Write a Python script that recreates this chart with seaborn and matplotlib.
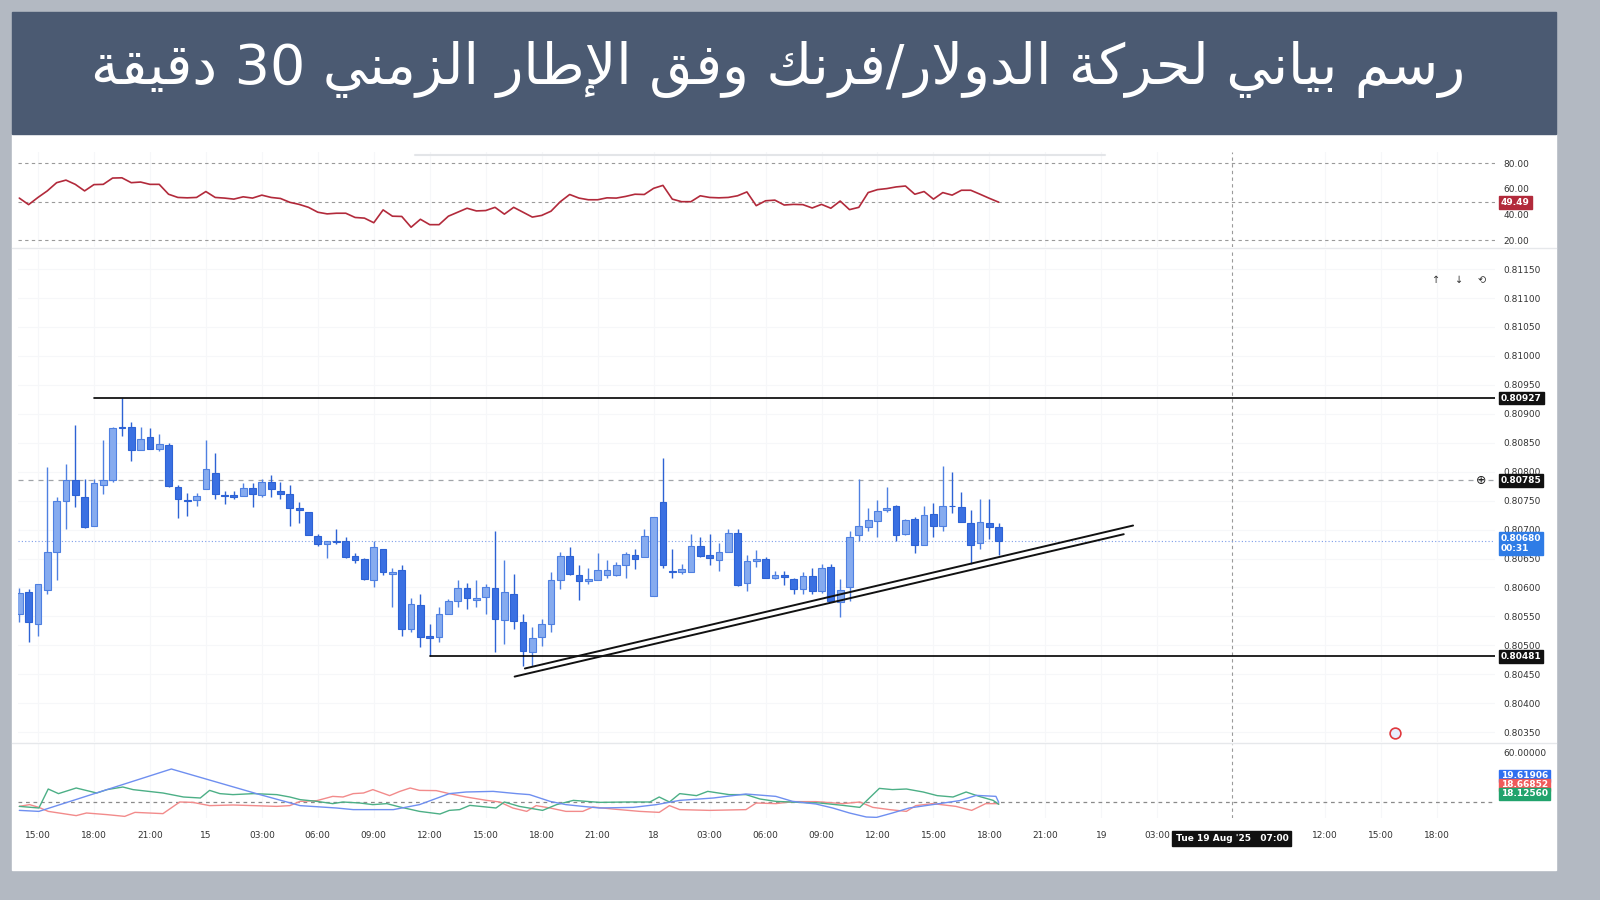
import re

import matplotlib
matplotlib.use("Agg")
import matplotlib.pyplot as plt
import seaborn as sns
import pandas as pd
from matplotlib.patches import Rectangle

TITLE = "رسم بياني لحركة الدولار/فرنك وفق الإطار الزمني 30 دقيقة"

# 30-minute candles, bar index 0 = 14 Aug 14:00
OPENS = [0.80555, 0.80592, 0.80537, 0.80595, 0.80661, 0.80749, 0.80785, 0.80756, 0.80706, 0.80777,
         0.80785, 0.80878, 0.80878, 0.80837, 0.80860, 0.80840, 0.80846, 0.80774, 0.80751, 0.80751,
         0.80770, 0.80797, 0.80760, 0.80760, 0.80758, 0.80772, 0.80760, 0.80783, 0.80767, 0.80761,
         0.80738, 0.80731, 0.80689, 0.80675, 0.80680, 0.80681, 0.80654, 0.80650, 0.80613, 0.80666,
         0.80624, 0.80630, 0.80529, 0.80570, 0.80516, 0.80514, 0.80554, 0.80576, 0.80599, 0.80578,
         0.80584, 0.80599, 0.80543, 0.80589, 0.80540, 0.80488, 0.80514, 0.80536, 0.80613, 0.80654,
         0.80622, 0.80611, 0.80613, 0.80621, 0.80621, 0.80639, 0.80656, 0.80653, 0.80585, 0.80747,
         0.80629, 0.80626, 0.80627, 0.80671, 0.80656, 0.80648, 0.80662, 0.80694, 0.80607, 0.80645,
         0.80650, 0.80617, 0.80622, 0.80615, 0.80598, 0.80619, 0.80594, 0.80636, 0.80575, 0.80600,
         0.80691, 0.80705, 0.80715, 0.80733, 0.80740, 0.80692, 0.80718, 0.80673, 0.80727, 0.80706,
         0.80741, 0.80739, 0.80711, 0.80676, 0.80711, 0.80704]
HIGHS = [0.80599, 0.80597, 0.80606, 0.80808, 0.80757, 0.80813, 0.80880, 0.80788, 0.80788, 0.80855,
         0.80878, 0.80927, 0.80885, 0.80878, 0.80875, 0.80865, 0.80850, 0.80777, 0.80763, 0.80764,
         0.80855, 0.80833, 0.80767, 0.80767, 0.80781, 0.80781, 0.80788, 0.80795, 0.80782, 0.80777,
         0.80747, 0.80731, 0.80692, 0.80681, 0.80701, 0.80687, 0.80660, 0.80651, 0.80681, 0.80666,
         0.80633, 0.80639, 0.80582, 0.80588, 0.80536, 0.80566, 0.80580, 0.80613, 0.80608, 0.80613,
         0.80606, 0.80698, 0.80647, 0.80623, 0.80555, 0.80531, 0.80546, 0.80627, 0.80662, 0.80670,
         0.80639, 0.80634, 0.80660, 0.80647, 0.80644, 0.80662, 0.80667, 0.80701, 0.80721, 0.80823,
         0.80666, 0.80640, 0.80692, 0.80688, 0.80692, 0.80676, 0.80701, 0.80701, 0.80656, 0.80664,
         0.80653, 0.80628, 0.80628, 0.80617, 0.80627, 0.80634, 0.80640, 0.80640, 0.80614, 0.80698,
         0.80788, 0.80737, 0.80751, 0.80773, 0.80743, 0.80718, 0.80722, 0.80741, 0.80746, 0.80810,
         0.80799, 0.80765, 0.80733, 0.80752, 0.80752, 0.80711]
LOWS = [0.80540, 0.80506, 0.80516, 0.80588, 0.80613, 0.80701, 0.80739, 0.80703, 0.80706, 0.80761,
        0.80782, 0.80861, 0.80818, 0.80837, 0.80839, 0.80836, 0.80773, 0.80720, 0.80723, 0.80740,
        0.80770, 0.80752, 0.80744, 0.80752, 0.80758, 0.80739, 0.80757, 0.80757, 0.80752, 0.80706,
        0.80711, 0.80691, 0.80672, 0.80651, 0.80675, 0.80651, 0.80643, 0.80613, 0.80600, 0.80622,
        0.80567, 0.80516, 0.80523, 0.80497, 0.80482, 0.80505, 0.80554, 0.80566, 0.80563, 0.80567,
        0.80554, 0.80488, 0.80503, 0.80529, 0.80464, 0.80464, 0.80498, 0.80523, 0.80598, 0.80622,
        0.80578, 0.80606, 0.80613, 0.80617, 0.80619, 0.80616, 0.80632, 0.80653, 0.80585, 0.80633,
        0.80616, 0.80623, 0.80627, 0.80653, 0.80638, 0.80629, 0.80662, 0.80603, 0.80594, 0.80636,
        0.80617, 0.80614, 0.80605, 0.80589, 0.80589, 0.80589, 0.80590, 0.80577, 0.80549, 0.80577,
        0.80680, 0.80698, 0.80688, 0.80730, 0.80680, 0.80690, 0.80659, 0.80673, 0.80687, 0.80698,
        0.80729, 0.80713, 0.80640, 0.80667, 0.80684, 0.80656]
CLOSES = [0.80591, 0.80541, 0.80606, 0.80661, 0.80749, 0.80786, 0.80760, 0.80705, 0.80781, 0.80786,
          0.80875, 0.80875, 0.80837, 0.80857, 0.80839, 0.80848, 0.80775, 0.80753, 0.80750, 0.80758,
          0.80805, 0.80761, 0.80758, 0.80756, 0.80772, 0.80761, 0.80782, 0.80770, 0.80761, 0.80738,
          0.80734, 0.80691, 0.80675, 0.80680, 0.80679, 0.80652, 0.80647, 0.80615, 0.80670, 0.80626,
          0.80627, 0.80529, 0.80571, 0.80514, 0.80512, 0.80555, 0.80576, 0.80599, 0.80581, 0.80582,
          0.80600, 0.80546, 0.80592, 0.80542, 0.80490, 0.80513, 0.80536, 0.80613, 0.80654, 0.80623,
          0.80612, 0.80614, 0.80630, 0.80630, 0.80639, 0.80657, 0.80650, 0.80689, 0.80721, 0.80639,
          0.80627, 0.80632, 0.80671, 0.80655, 0.80651, 0.80662, 0.80694, 0.80605, 0.80645, 0.80650,
          0.80617, 0.80622, 0.80618, 0.80598, 0.80619, 0.80594, 0.80634, 0.80577, 0.80595, 0.80688,
          0.80706, 0.80716, 0.80732, 0.80737, 0.80691, 0.80716, 0.80673, 0.80726, 0.80706, 0.80740,
          0.80740, 0.80713, 0.80673, 0.80713, 0.80704, 0.80680]

RSI = [52.7, 47.6, 53.2, 58.3, 64.7, 66.7, 63.4, 58.3, 63.2, 63.4,
       68.3, 68.5, 64.7, 65.2, 63.4, 63.4, 55.7, 53.2, 52.9, 53.2,
       57.8, 53.2, 52.7, 51.9, 53.7, 52.7, 55.0, 53.2, 52.4, 49.4,
       47.8, 45.5, 41.7, 40.4, 40.9, 40.9, 37.6, 37.1, 33.5, 43.5,
       38.6, 38.4, 30.0, 36.2, 32.0, 32.0, 38.6, 41.7, 44.8, 42.7,
       43.0, 45.5, 40.2, 45.5, 41.7, 37.9, 39.2, 42.5, 49.9, 55.5,
       52.7, 51.4, 51.4, 52.9, 52.7, 54.0, 55.7, 55.5, 60.3, 62.6,
       51.9, 49.9, 49.9, 54.5, 53.2, 52.9, 53.2, 54.5, 57.5, 46.8,
       50.6, 51.1, 47.3, 47.8, 47.6, 45.0, 47.8, 44.8, 50.4, 43.7,
       45.5, 57.0, 59.3, 60.1, 61.4, 62.1, 55.7, 57.8, 51.9, 57.0,
       55.0, 58.8, 58.8, 55.7, 52.5, 49.49]

# DMI readings (bar position, value)
ADX_X = [0, 2.1, 16.3, 25.8, 30.1, 34, 35.8, 40.1, 42.9, 46.1, 47.9, 50.8, 53.3, 54.7, 56.9, 58.6,
         60.4, 62.2, 65.8, 68.3, 70.8, 74.4, 77.9, 81.1, 82.9, 85.4, 87.2, 89, 90.8, 91.9, 93.6,
         95.4, 97.9, 100.8, 102.6, 104.7, 105]
ADX_V = [13.3, 12.5, 46.4, 25.9, 17.1, 15.2, 13.9, 13.9, 17.9, 26.7, 28.0, 28.5, 26.7, 25.9, 20.5, 17.9,
         16.5, 15.2, 15.7, 17.9, 21.3, 23.2, 26.4, 24.5, 20.5, 18.4, 15.2, 11.2, 8.0, 7.7, 11.2,
         15.2, 17.9, 21.1, 25.3, 24.5, 19.62]
PDI_X = [0, 2.1, 3.1, 4.2, 6.1, 8.3, 9.4, 11.1, 12.2, 15.4, 17.6, 19.4, 20.4, 21.5, 22.9, 25.1, 27.6,
         29, 30.1, 31.9, 33.6, 34.7, 36.5, 37.9, 39.4, 40.8, 42.9, 45.1, 46.1, 47.2, 48.3, 49.4,
         51.1, 52, 53.6, 56.1, 57.6, 59.4, 62.2, 65.1, 67.6, 68.6, 69.7, 70.8, 72.6, 73.8, 76.1,
         77.9, 79.4, 81.1, 83.6, 85.8, 88.3, 90.1, 92.2, 93.6, 95.1, 96.9, 98.4, 100.1, 101.5,
         102.9, 104.4, 105]
PDI_V = [16.5, 15.2, 30.4, 26.7, 31.2, 27.2, 29.9, 32.0, 29.9, 27.2, 24.0, 23.2, 29.3, 26.7, 25.9, 26.7, 25.9,
         24.0, 21.9, 20.5, 18.7, 20.0, 19.2, 17.9, 18.7, 16.0, 12.5, 10.4, 13.3, 13.9, 17.3, 16.5,
         15.2, 20.0, 16.5, 13.3, 17.9, 21.3, 19.7, 20.0, 20.0, 24.0, 20.0, 26.7, 25.1, 28.5, 25.9,
         25.9, 22.4, 20.5, 19.7, 19.2, 17.3, 15.7, 30.9, 29.9, 30.4, 28.0, 25.1, 24.0, 28.0,
         24.5, 21.3, 18.13]
MDI_X = [0, 1.1, 2.1, 3.1, 4.7, 6.1, 7.2, 9.4, 11.3, 12.4, 15.4, 17.2, 18.6, 20.4, 22.9, 25.1, 27.6,
         29, 30.1, 31.9, 33.6, 34.7, 35.8, 36.9, 37.9, 39.7, 40.8, 41.9, 42.9, 44.7, 46.1, 47.9,
         50.1, 51.5, 52.9, 54.4, 55.4, 56.9, 58.6, 60.4, 61.5, 63.6, 66.5, 68.6, 69.7, 70.8, 74,
         77.9, 79, 81.1, 82.9, 85.4, 88.3, 90.1, 91.5, 93.3, 95.1, 96.1, 97.9, 100.4, 102.1,
         103.6, 105]
MDI_V = [16.5, 17.9, 15.7, 12.5, 10.7, 9.1, 11.2, 9.9, 8.5, 11.7, 10.7, 20.0, 19.7, 17.1, 17.6, 17.1, 16.5,
         17.1, 20.5, 21.1, 24.5, 24.0, 26.7, 27.2, 29.9, 25.1, 28.5, 31.2, 29.3, 29.1, 26.7, 24.0,
         21.3, 20.0, 15.2, 12.5, 17.1, 15.2, 12.5, 12.5, 16.0, 14.4, 12.5, 11.7, 17.1, 13.9, 13.3,
         13.9, 19.2, 18.7, 20.3, 20.3, 18.7, 20.0, 15.7, 13.9, 12.5, 17.1, 18.7, 16.5, 13.3,
         18.7, 18.67]

TICK_POS = [2, 8, 14, 20, 26, 32, 38, 44, 50, 56, 62, 68, 74, 80, 86, 92, 98, 104, 110, 116, 122,
            140, 146, 152]
TICK_LABELS = ["15:00", "18:00", "21:00", "15", "03:00", "06:00", "09:00", "12:00", "15:00",
               "18:00", "21:00", "18", "03:00", "06:00", "09:00", "12:00", "15:00", "18:00",
               "21:00", "19", "03:00", "12:00", "15:00", "18:00"]
CROSS_X = 130
RESIST = 0.80927
SUPPORT = 0.80481
LEVEL_MID = 0.80785
LAST_PRICE = 0.80680
TREND_UP = ([54.2, 119.4], [0.80460, 0.80707])
TREND_LO = ([53.1, 118.4], [0.80446, 0.80692])
PRICE_TICKS = [0.8035 + 0.0005 * k for k in range(17)]

# ---- minimal Arabic shaping (matplotlib has no text shaping) ----
FORMS = {
    "ا": ("\uFE8D", "\uFE8E", None, None), "إ": ("\uFE87", "\uFE88", None, None),
    "ب": ("\uFE8F", "\uFE90", "\uFE91", "\uFE92"), "ة": ("\uFE93", "\uFE94", None, None),
    "ت": ("\uFE95", "\uFE96", "\uFE97", "\uFE98"), "ح": ("\uFEA1", "\uFEA2", "\uFEA3", "\uFEA4"),
    "د": ("\uFEA9", "\uFEAA", None, None), "ر": ("\uFEAD", "\uFEAE", None, None),
    "ز": ("\uFEAF", "\uFEB0", None, None), "س": ("\uFEB1", "\uFEB2", "\uFEB3", "\uFEB4"),
    "ط": ("\uFEC1", "\uFEC2", "\uFEC3", "\uFEC4"), "ف": ("\uFED1", "\uFED2", "\uFED3", "\uFED4"),
    "ق": ("\uFED5", "\uFED6", "\uFED7", "\uFED8"), "ك": ("\uFED9", "\uFEDA", "\uFEDB", "\uFEDC"),
    "ل": ("\uFEDD", "\uFEDE", "\uFEDF", "\uFEE0"), "م": ("\uFEE1", "\uFEE2", "\uFEE3", "\uFEE4"),
    "ن": ("\uFEE5", "\uFEE6", "\uFEE7", "\uFEE8"), "و": ("\uFEED", "\uFEEE", None, None),
    "ي": ("\uFEF1", "\uFEF2", "\uFEF3", "\uFEF4"),
}
LAM_ALEF = {"ا": ("\uFEFB", "\uFEFC"), "إ": ("\uFEF9", "\uFEFA")}


def shape_arabic(text):
    out = []
    i, n = 0, len(text)
    while i < n:
        ch = text[i]
        if ch not in FORMS:
            out.append(ch)
            i += 1
            continue
        prev = text[i - 1] if i > 0 else ""
        prev_j = prev in FORMS and FORMS[prev][2] is not None
        if ch == "ل" and i + 1 < n and text[i + 1] in LAM_ALEF:
            out.append(LAM_ALEF[text[i + 1]][1 if prev_j else 0])
            i += 2
            continue
        nxt = text[i + 1] if i + 1 < n else ""
        next_j = FORMS[ch][2] is not None and nxt in FORMS
        iso, fin, ini, med = FORMS[ch]
        out.append(med if prev_j and next_j else fin if prev_j else ini if next_j else iso)
        i += 1
    s = "".join(out)[::-1]
    return re.sub(r"[0-9]+", lambda m: m.group(0)[::-1], s)


sns.set_theme(style="white")
plt.rcParams["font.family"] = "DejaVu Sans"

W, H = 1600, 900
fig = plt.figure(figsize=(16, 9), dpi=100, facecolor="#b3b9c2")


def fx(px):
    return px / W


def fy(py):
    return 1 - py / H


fig.patches.append(Rectangle((fx(12), fy(870)), fx(1544), (870 - 134) / H,
                             transform=fig.transFigure, color="white", zorder=-10))
fig.patches.append(Rectangle((fx(12), fy(134)), fx(1544), (134 - 12) / H,
                             transform=fig.transFigure, color="#4b5a72", zorder=-10))
fig.text(fx(778), fy(70), shape_arabic(TITLE), color="white", fontsize=40,
         ha="center", va="center", family="DejaVu Sans")

left, width = fx(18), fx(1477)
XLIM = (-0.14, 158.2)
ax_rsi = fig.add_axes([left, fy(247), width, 95 / H])
ax = fig.add_axes([left, fy(742), width, 492 / H])
ax_dmi = fig.add_axes([left, fy(818), width, 74 / H])

GRID = "#f6f7f9"
for a in (ax_rsi, ax, ax_dmi):
    a.set_xlim(*XLIM)
    a.set_facecolor("none")
    for s in a.spines.values():
        s.set_visible(False)
    a.yaxis.tick_right()
    a.tick_params(axis="y", length=0, pad=6, labelsize=6.5, labelcolor="#333333")
    a.set_xticks(TICK_POS)
    a.tick_params(axis="x", length=0)
    for t in TICK_POS:
        a.axvline(t, color=GRID, lw=0.8, zorder=0)
    a.axvline(CROSS_X, color="#9a9a9a", lw=0.8, ls=(0, (3, 3)), zorder=1)

# ---- price panel ----
df = pd.DataFrame({"o": OPENS, "h": HIGHS, "l": LOWS, "c": CLOSES})
df["i"] = range(len(df))
up = df["c"] >= df["o"]
for mask, fill, edge in ((up, "#86abef", "#4f80e1"), (~up, "#3a70e2", "#2d62d4")):
    d = df[mask]
    ax.vlines(d["i"], d["l"], d["h"], color=edge, lw=1.0, zorder=3)
    bottom = d[["o", "c"]].min(axis=1)
    height = (d["o"] - d["c"]).abs().clip(lower=0.000012)
    ax.bar(d["i"], height, bottom=bottom, width=0.72, color=fill, edgecolor=edge,
           linewidth=0.8, zorder=4)

ax.set_ylim(0.80333, 0.81183)
ax.set_yticks(PRICE_TICKS)
ax.set_yticklabels([f"{v:.5f}" for v in PRICE_TICKS])
for v in PRICE_TICKS:
    ax.axhline(v, color=GRID, lw=0.8, zorder=0)
ax.set_xticklabels([])
ax.plot([8, XLIM[1]], [RESIST, RESIST], color="black", lw=1.2, zorder=5)
ax.plot([44, XLIM[1]], [SUPPORT, SUPPORT], color="black", lw=1.2, zorder=5)
ax.axhline(LEVEL_MID, color="#a0a4a8", lw=0.9, ls=(0, (4, 4)), zorder=1)
ax.axhline(LAST_PRICE, color="#7d9ce8", lw=0.8, ls=(0, (1, 2)), zorder=1)
ax.plot(*TREND_UP, color="#111111", lw=1.4, zorder=6)
ax.plot(*TREND_LO, color="#111111", lw=1.4, zorder=6)
ax.scatter([147.5], [0.80348], s=60, facecolor="#e8eefc", edgecolor="#e0393e", lw=1.2, zorder=6)


def tag(a, y, text, color, fg="white"):
    a.annotate(text, xy=(1.004, y), xycoords=("axes fraction", "data"), fontsize=6.5,
               color=fg, fontweight="bold", va="center", ha="left", annotation_clip=False,
               bbox=dict(boxstyle="square,pad=0.2", fc=color, ec=color), zorder=10)


tag(ax, RESIST, "0.80927", "#111111")
tag(ax, LEVEL_MID, "0.80785", "#111111")
tag(ax, SUPPORT, "0.80481", "#111111")
tag(ax, LAST_PRICE - 0.00004, "0.80680\n00:31", "#2f7ce6")
ax.annotate("⊕", xy=(0.9905, LEVEL_MID), xycoords=("axes fraction", "data"), fontsize=9,
            ha="center", va="center", color="#222222")
for k, sym in enumerate(["↑", "↓", "⟲"]):
    ax.annotate(sym, xy=(fx(1436 + 23 * k - 18) / width, 0.81131),
                xycoords=("axes fraction", "data"), fontsize=7, ha="center", va="center",
                color="#333333", annotation_clip=False)

# ---- RSI panel ----
rsi_df = pd.DataFrame({"i": range(len(RSI)), "rsi": RSI})
sns.lineplot(data=rsi_df, x="i", y="rsi", ax=ax_rsi, color="#b22a3b", lw=1.2, zorder=4)
ax_rsi.set_ylim(14.6, 88.6)
ax_rsi.set_yticks([20, 40, 60, 80])
ax_rsi.set_yticklabels(["20.00", "40.00", "60.00", "80.00"])
for v in (20, 50, 80):
    ax_rsi.axhline(v, color="#9a9a9a", lw=0.8, ls=(0, (3, 3)), zorder=1)
ax_rsi.set_xticklabels([])
ax_rsi.set_xlabel("")
ax_rsi.set_ylabel("")
tag(ax_rsi, RSI[-1], f"{RSI[-1]:.2f}", "#b22a3b")

# ---- DMI panel ----
for xs, vs, col in ((MDI_X, MDI_V, "#f28b8b"), (PDI_X, PDI_V, "#4caf86"), (ADX_X, ADX_V, "#6f8ff0")):
    sns.lineplot(x=xs, y=vs, ax=ax_dmi, color=col, lw=1.0, zorder=4, sort=False)
ax_dmi.set_ylim(7.2, 66.4)
ax_dmi.set_yticks([40, 60])
ax_dmi.set_yticklabels(["40.00000", "60.00000"])
ax_dmi.axhline(20, color="#8a8a8a", lw=0.9, ls=(0, (3, 3)), zorder=1)
ax_dmi.set_xticklabels(TICK_LABELS, fontsize=6.5, color="#333333")
ax_dmi.tick_params(axis="x", pad=9)
ax_dmi.set_xlabel("")
ax_dmi.set_ylabel("")
for k, (txt, col) in enumerate((("19.61906", "#2f6ff0"), ("18.66852", "#ef5a5a"),
                                ("18.12560", "#21a36c"))):
    ax_dmi.annotate(txt, xy=(1.004, 0.57 - 0.122 * k), xycoords="axes fraction", fontsize=6.5,
                    color="white", fontweight="bold", va="center", ha="left",
                    annotation_clip=False,
                    bbox=dict(boxstyle="square,pad=0.2", fc=col, ec=col), zorder=10)
ax_dmi.annotate("Tue 19 Aug '25   07:00", xy=(CROSS_X, 0), xycoords=("data", "axes fraction"),
                xytext=(0, -15), textcoords="offset points", fontsize=6.5, color="white",
                fontweight="bold", ha="center", va="center", annotation_clip=False,
                bbox=dict(boxstyle="square,pad=0.35", fc="#111111", ec="#111111"))

# panel separators
for py in (248, 743):
    fig.add_artist(plt.Line2D([fx(12), fx(1556)], [fy(py), fy(py)], color="#e6e8eb", lw=1))
fig.add_artist(plt.Line2D([fx(415), fx(1105)], [fy(155), fy(155)], color="#e3e5e8", lw=1.5))

fig.savefig("out.png", dpi=100, facecolor=fig.get_facecolor())
